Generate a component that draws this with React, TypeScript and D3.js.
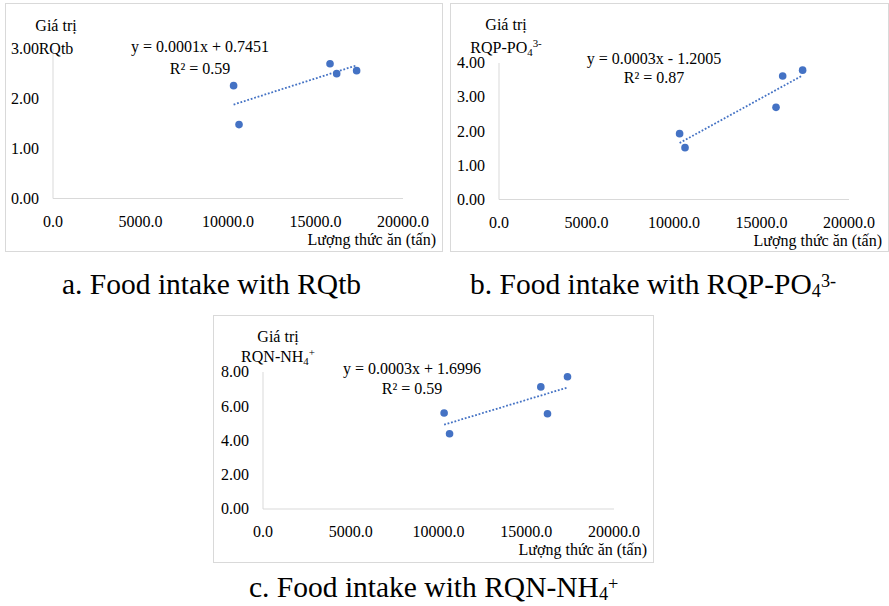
import React from "react";
import * as d3 from "d3";

// Values (same food intake on x)
const foodIntake = [10320, 10630, 15830, 16210, 17350];
const rqtbValues = [2.26, 1.48, 2.7, 2.5, 2.56];
const rqpValues = [1.93, 1.52, 2.7, 3.62, 3.79];
const rqnValues = [5.61, 4.39, 7.13, 5.56, 7.72];

const xTicks = [0, 5000, 10000, 15000, 20000];
const rqtbTicks = [0, 1, 2, 3];
const rqpTicks = [0, 1, 2, 3, 4];
const rqnTicks = [0, 2, 4, 6, 8];

const equations = ["y = 0.0001x + 0.7451", "y = 0.0003x - 1.2005", "y = 0.0003x + 1.6996"];
const rSquared = ["R² = 0.59", "R² = 0.87", "R² = 0.59"];
const xTitle = "Lượng thức ăn (tấn)";
const yTitleTop = "Giá trị";

type Part = { t: string; sub?: boolean; sup?: boolean };
const yTitles: Part[][] = [
  [{ t: "RQtb" }],
  [{ t: "RQP-PO" }, { t: "4", sub: true }, { t: "3-", sup: true }],
  [{ t: "RQN-NH" }, { t: "4", sub: true }, { t: "+", sup: true }],
];
const captions: Part[][] = [
  [{ t: "a. Food intake with RQtb" }],
  [{ t: "b. Food intake with RQP-PO" }, { t: "4", sub: true }, { t: "3-", sup: true }],
  [{ t: "c. Food intake with RQN-NH" }, { t: "4", sub: true }, { t: "+", sup: true }],
];

const FONT = '"Liberation Serif", "Times New Roman", Times, serif';
const BLUE = "#4472C4";
const GRID = "#d9d9d9";

function Rich({ parts, size, sub, sup, small }: { parts: Part[]; size: number; sub: number; sup: number; small: number }) {
  let shift = 0;
  return (
    <>
      {parts.map((p, i) => {
        const target = p.sub ? size * sub : p.sup ? -size * sup : 0;
        const dy = target - shift;
        shift = target;
        return (
          <tspan key={i} dy={dy} fontSize={p.sub || p.sup ? size * small : size}>
            {p.t}
          </tspan>
        );
      })}
    </>
  );
}

// least squares fit for the dotted trend line
function fit(xs: number[], ys: number[]) {
  const mx = d3.mean(xs)!;
  const my = d3.mean(ys)!;
  const sxy = d3.sum(xs, (x, i) => (x - mx) * (ys[i] - my));
  const sxx = d3.sum(xs, (x) => (x - mx) ** 2);
  const slope = sxy / sxx;
  return { slope, intercept: my - slope * mx };
}

type Layout = {
  box: [number, number, number, number];
  left: number;
  right: number;
  top: number;
  bottom: number;
  titleX: number;
  titleY: [number, number];
  eqX: number;
  eqY: [number, number];
  caption: [number, number];
};

const layouts: Layout[] = [
  { box: [5, 3, 437, 248], left: 53, right: 403, top: 48.7, bottom: 198.5, titleX: 56, titleY: [31, 54], eqX: 200, eqY: [52, 74], caption: [62, 294] },
  { box: [450, 3, 438, 248], left: 499, right: 849, top: 63, bottom: 199.5, titleX: 506, titleY: [30, 53], eqX: 654, eqY: [64, 83], caption: [470, 294] },
  { box: [213, 315, 440, 247], left: 263, right: 614, top: 372, bottom: 509, titleX: 278, titleY: [342, 362], eqX: 412, eqY: [374, 394], caption: [249, 597] },
];

const series = [rqtbValues, rqpValues, rqnValues];
const yTickSets = [rqtbTicks, rqpTicks, rqnTicks];

function Panel({ idx }: { idx: number }) {
  const L = layouts[idx];
  const ys = series[idx];
  const yTicks = yTickSets[idx];
  const x = d3.scaleLinear().domain([0, 20000]).range([L.left, L.right]);
  const y = d3.scaleLinear().domain([0, d3.max(yTicks)!]).range([L.bottom, L.top]);
  const { slope, intercept } = fit(foodIntake, ys);
  const ext = d3.extent(foodIntake) as [number, number];
  const line = d3
    .line<number>()
    .x((d) => x(d))
    .y((d) => y(slope * d + intercept));
  const [bx, by, bw, bh] = L.box;
  const ts = { fontFamily: FONT };

  return (
    <g style={ts} fill="#000">
      <rect x={bx + 0.5} y={by + 0.5} width={bw} height={bh} fill="#fff" stroke={GRID} />
      <line x1={L.left} x2={L.left} y1={L.top} y2={L.bottom} stroke={GRID} />
      <line x1={L.left} x2={L.right} y1={L.bottom} y2={L.bottom} stroke={GRID} />
      {yTicks.map((t) => (
        <text key={t} style={ts} x={L.left - 14} y={y(t)} dy="0.33em" textAnchor="end" fontSize={16}>
          {t.toFixed(2)}
        </text>
      ))}
      {xTicks.map((t) => (
        <text key={t} style={ts} x={x(t)} y={L.bottom + 28} textAnchor="middle" fontSize={16}>
          {t.toFixed(1)}
        </text>
      ))}
      <text style={ts} x={L.right + 33} y={L.bottom + 46} textAnchor="end" fontSize={16}>
        {xTitle}
      </text>
      <text style={ts} x={L.titleX} y={L.titleY[0]} textAnchor="middle" fontSize={16}>
        {yTitleTop}
      </text>
      <text style={ts} x={L.titleX} y={L.titleY[1]} textAnchor="middle" fontSize={16}>
        <Rich parts={yTitles[idx]} size={16} sub={0.2} sup={0.4} small={0.68} />
      </text>
      <path d={line(ext) || ""} fill="none" stroke={BLUE} strokeWidth={1.8} strokeDasharray="1.8 1.8" />
      {foodIntake.map((fx, i) => (
        <circle key={i} cx={x(fx)} cy={y(ys[i])} r={3.8} fill={BLUE} />
      ))}
      <text style={ts} x={L.eqX} y={L.eqY[0]} textAnchor="middle" fontSize={16}>
        {equations[idx]}
      </text>
      <text style={ts} x={L.eqX} y={L.eqY[1]} textAnchor="middle" fontSize={16}>
        {rSquared[idx]}
      </text>
      <text style={ts} x={L.caption[0]} y={L.caption[1]} fontSize={29.5}>
        <Rich parts={captions[idx]} size={29.5} sub={0.1} sup={0.25} small={0.62} />
      </text>
    </g>
  );
}

export default function App() {
  return (
    <svg
      width={889}
      height={606}
      style={{ position: "absolute", left: 0, top: 0, background: "#fff", fontFamily: FONT }}
    >
      <rect width={889} height={606} fill="#fff" />
      {[0, 1, 2].map((i) => (
        <Panel key={i} idx={i} />
      ))}
    </svg>
  );
}
